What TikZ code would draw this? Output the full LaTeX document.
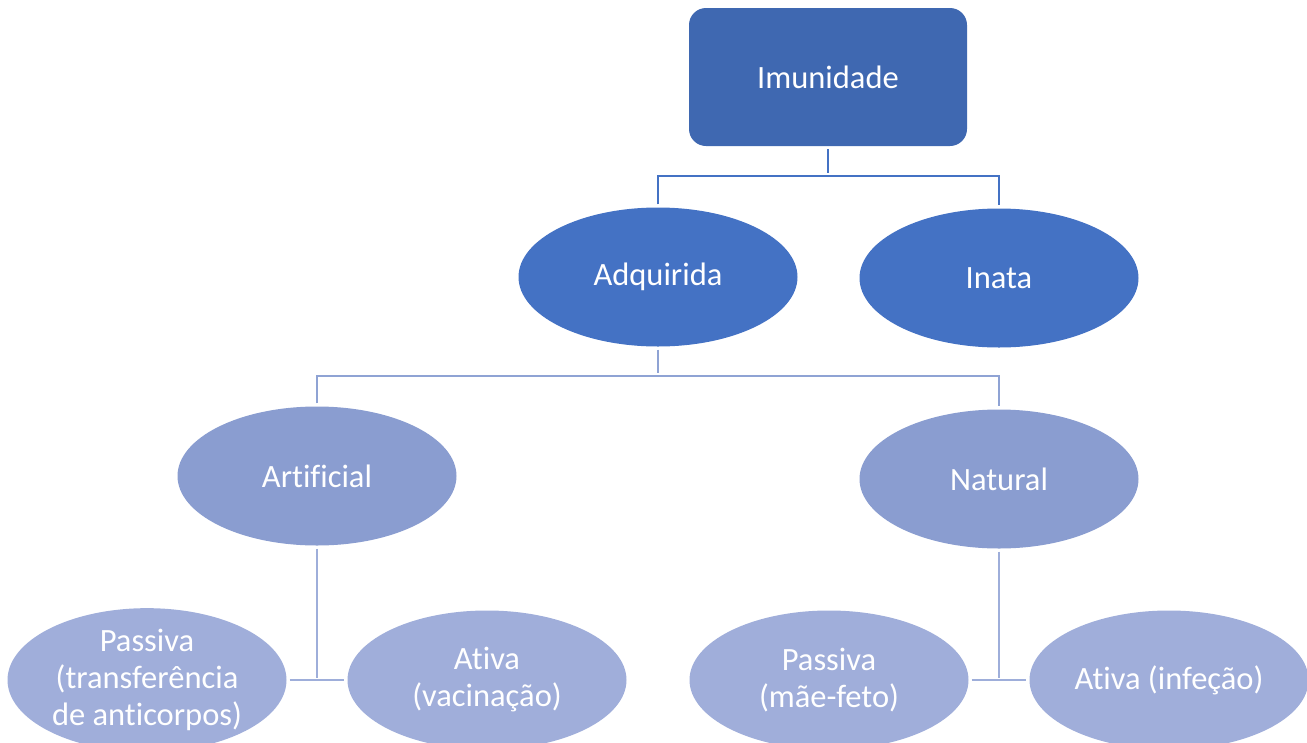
\documentclass[tikz,border=0pt]{standalone}
\usepackage{fontspec}
\setmainfont[Ligatures=NoCommon]{Carlito}
\usetikzlibrary{shapes.geometric}
\definecolor{rootblue}{RGB}{63,104,177}
\definecolor{onefill}{RGB}{68,114,196}
\definecolor{twofill}{RGB}{138,157,208}
\definecolor{threefill}{RGB}{160,174,218}
\definecolor{oneline}{RGB}{68,114,196}
\definecolor{twoline}{RGB}{143,163,212}
\definecolor{threeline}{RGB}{158,174,218}

\begin{document}
\begin{tikzpicture}[x=1pt,y=-1pt,
    every node/.style={font=\fontsize{32.5}{37}\selectfont,text=white,align=center},
    root node/.style={rectangle,rounded corners=17pt,fill=rootblue,minimum width=278pt,minimum height=138pt,inner sep=0pt},
    oval node/.style={ellipse,minimum width=279pt,minimum height=139pt,inner sep=0pt},
    conn/.style={line width=2.8pt,shorten <=3pt,shorten >=3pt}]
    \useasboundingbox (0,0) rectangle (1307,742);
    \node[root node] (imun) at (828,77) {Imunidade};
    \node[oval node,fill=onefill] (adq) at (658,277) {Adquirida};
    \node[oval node,fill=onefill] (ina) at (999,278) {Inata};
    \node[oval node,fill=twofill] (art) at (317,476) {Artificial};
    \node[oval node,fill=twofill] (nat) at (999,479) {Natural};
    \node[oval node,fill=threefill] (passart) at (147,680) {Passiva\\(transferência\\de anticorpos)};
    \node[oval node,fill=threefill] (ativac) at (487,680) {Ativa\\(vacinação)};
    \node[oval node,fill=threefill] (passnat) at (829,680) {Passiva\\(mãe-feto)};
    \node[oval node,fill=threefill] (ativinf) at (1169,680) {Ativa (infeção)};
    \coordinate (j1) at (828,176);
    \coordinate (j2) at (658,376);
    \coordinate (j3) at (317,678);
    \coordinate (j4) at (999,678);
    \draw[conn,oneline] (imun.south) -- (j1);
    \draw[conn,oneline] (adq.north) |- (j1) -| (ina.north);
    \draw[conn,twoline] (adq.south) -- (j2);
    \draw[conn,twoline] (art.north) |- (j2) -| (nat.north);
    \draw[conn,threeline,shorten >=0pt] (art.south) -- (j3);
    \draw[conn,threeline] (passart.east) -- (ativac.west);
    \draw[conn,threeline,shorten >=0pt] (nat.south) -- (j4);
    \draw[conn,threeline] (passnat.east) -- (ativinf.west);
\end{tikzpicture}
\end{document}
